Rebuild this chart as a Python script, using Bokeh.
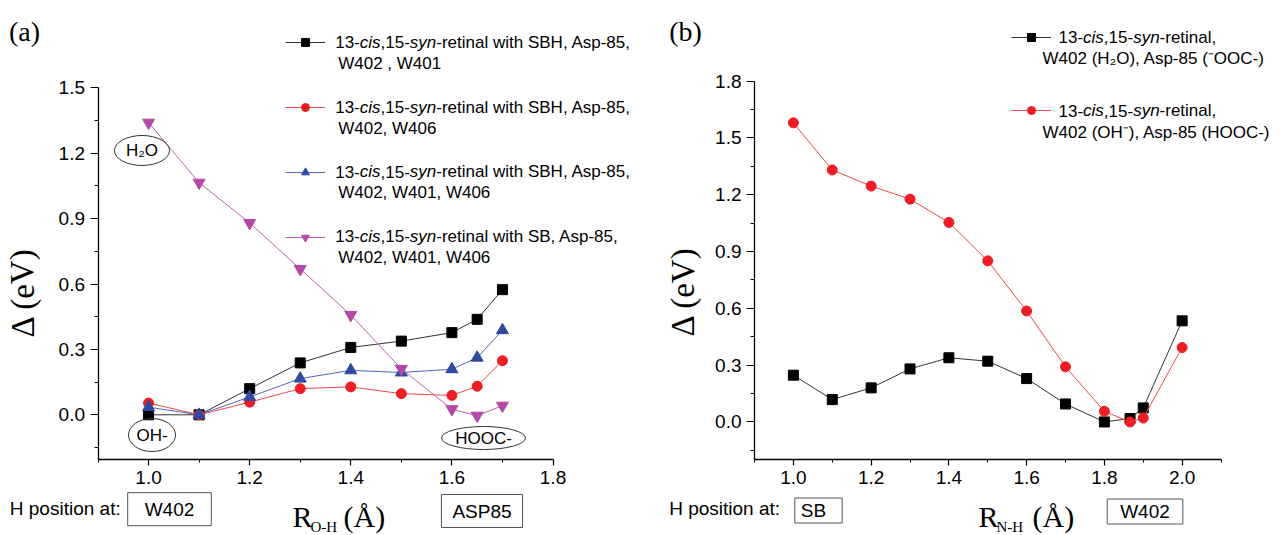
from bokeh.plotting import figure
from bokeh.models import Range1d, FixedTicker, PrintfTickFormatter, Label, Legend, LegendItem
from bokeh.layouts import row
from bokeh.embed import file_html
from bokeh.resources import INLINE

# ---------------- data: panel (a) ----------------
x_a = [1.0, 1.1, 1.2, 1.3, 1.4, 1.5, 1.6, 1.65, 1.7]
a_sbh_w402_w401 = [0.0, 0.0, 0.12, 0.238, 0.309, 0.338, 0.377, 0.438, 0.574]
a_sbh_w402_w406 = [0.054, 0.0, 0.058, 0.12, 0.128, 0.097, 0.089, 0.131, 0.248]
a_sbh_w402_w401_w406 = [0.035, 0.0, 0.082, 0.166, 0.204, 0.194, 0.209, 0.262, 0.388]
a_sb_w402_w401_w406 = [1.34, 1.065, 0.88, 0.669, 0.458, 0.211, 0.026, -0.004, 0.042]

# ---------------- data: panel (b) ----------------
x_b = [1.0, 1.1, 1.2, 1.3, 1.4, 1.5, 1.6, 1.7, 1.8, 1.866, 1.9, 2.0]
b_h2o_ooc = [0.247, 0.118, 0.18, 0.28, 0.339, 0.321, 0.229, 0.095, 0.0, 0.018, 0.074, 0.534]
b_oh_hooc = [1.58, 1.331, 1.246, 1.177, 1.054, 0.851, 0.586, 0.291, 0.056, 0.0, 0.021, 0.393]

# ticks
a_xticks = [1.0, 1.2, 1.4, 1.6, 1.8]
a_xminor = [0.9, 1.1, 1.3, 1.5, 1.7]
a_yticks = [0.0, 0.3, 0.6, 0.9, 1.2, 1.5]
a_yminor = [-0.15, 0.15, 0.45, 0.75, 1.05, 1.35]
b_xticks = [1.0, 1.2, 1.4, 1.6, 1.8, 2.0]
b_xminor = [0.9, 1.1, 1.3, 1.5, 1.7, 1.9, 2.1]
b_yticks = [0.0, 0.3, 0.6, 0.9, 1.2, 1.5, 1.8]
b_yminor = [-0.15, 0.15, 0.45, 0.75, 1.05, 1.35, 1.65]

BLACK = "#000000"
RED = "#ee1c25"
BLUE = "#2f4a9e"
MAG = "#b24aa5"
SANS = "Liberation Sans"
SERIF = "Liberation Serif"
H = 535

W = {'1': 556, '3': 556, '5': 556, '-': 333, ',': 278, 'c': 500, 'i': 222,
     's': 500, 'y': 500, 'n': 556}


def tw(s, size):
    return sum(W[c] for c in s) * size / 1000.0


def make_fig(w, ax_x, ax_y, xlim, ylim, xt, xm, yt, ym):
    """ax_x: pixels of xlim[0], xlim[1]; ax_y: pixels of ylim[1], ylim[0]."""
    kx = (xlim[1] - xlim[0]) / (ax_x[1] - ax_x[0])
    ky = (ylim[1] - ylim[0]) / (ax_y[1] - ax_y[0])
    xr = Range1d(xlim[0] - ax_x[0] * kx, xlim[0] + (w - ax_x[0]) * kx)
    yr = Range1d(ylim[1] - (H - ax_y[0]) * ky, ylim[1] + ax_y[0] * ky)
    p = figure(width=w, height=H, x_range=xr, y_range=yr, title=None,
               output_backend="svg", toolbar_location=None,
               min_border_left=0, min_border_right=0,
               min_border_top=0, min_border_bottom=0)
    p.outline_line_color = None
    p.grid.visible = False
    p.background_fill_color = "white"
    p.border_fill_color = "white"
    xa, ya = p.xaxis[0], p.yaxis[0]
    xa.ticker = FixedTicker(ticks=xt, minor_ticks=xm)
    ya.ticker = FixedTicker(ticks=yt, minor_ticks=ym)
    xa.fixed_location = ylim[0]
    ya.fixed_location = xlim[0]
    xa.bounds = xlim
    ya.bounds = ylim
    for ax in (xa, ya):
        ax.formatter = PrintfTickFormatter(format="%.1f")
        ax.axis_line_color = "black"
        ax.axis_line_width = 1.3
        ax.major_tick_line_color = "black"
        ax.minor_tick_line_color = "black"
        ax.major_tick_line_width = 1.2
        ax.major_tick_in = 0
        ax.minor_tick_in = 0
        ax.major_label_text_font = SANS
        ax.major_label_text_font_size = "19px"
        ax.major_label_text_color = "black"
    ya.major_tick_out = 8
    ya.minor_tick_out = 4
    ya.major_label_standoff = 5
    xa.major_tick_out = 6
    xa.minor_tick_out = 3
    xa.major_label_standoff = 5

    def conv(px, py):
        return (xr.start + px * kx, yr.end - py * ky)
    return p, conv


def add_text(p, conv, px, py, text, size, font=SANS, style="normal",
             align="left", baseline="middle", angle=0.0, **kw):
    X, Y = conv(px, py)
    p.add_layout(Label(x=X, y=Y, text=text, text_font=font, text_font_style=style,
                       text_font_size=f"{size}px", text_align=align,
                       text_baseline=baseline, angle=angle, text_color="black", **kw))


def rich(p, conv, px, py, pieces, size):
    for text, italic in pieces:
        add_text(p, conv, px, py, text, size, style="italic" if italic else "normal")
        if all(c in W for c in text):
            px += tw(text, size)


def head(tail):
    return [("13-", False), ("cis", True), (",15-", False), ("syn", True), (tail, False)]


def legend(items, x, y_top, spacing, n):
    bottom = y_top + n * 20 + (n - 1) * spacing
    return Legend(items=items, location=(x, H - bottom), glyph_width=40, glyph_height=20,
                  label_height=20, label_width=1, spacing=spacing, padding=0, margin=0,
                  border_line_color=None, background_fill_alpha=0,
                  label_text_font_size="1px", label_standoff=0)


# ====================== panel (a) ======================
WA = 658
pa, ca = make_fig(WA, (97.5, 552.5), (87.3, 459.3), (0.9, 1.8), (-0.2064, 1.5),
                  a_xticks, a_xminor, a_yticks, a_yminor)

series_a = [
    (a_sbh_w402_w401, BLACK, "#333333", "square", 10),
    (a_sbh_w402_w406, RED, "#f04848", "circle", 10),
    (a_sbh_w402_w401_w406, BLUE, "#5566bb", "triangle", 12),
    (a_sb_w402_w401_w406, MAG, "#c060b4", "inverted_triangle", 12),
]
items_a = []
for ys, mc, lc, mk, sz in series_a:
    l = pa.line(x_a, ys, line_color=lc, line_width=1)
    s = pa.scatter(x_a, ys, marker=mk, size=sz, fill_color=mc, line_color=mc)
    items_a.append(LegendItem(label=" ", renderers=[l, s]))
pa.add_layout(legend(items_a, 285, 31.7, 45, 4))

rows_a = [(41.7, 62.7, "-retinal with SBH, Asp-85,", "W402 , W401"),
          (106.7, 127.7, "-retinal with SBH, Asp-85,", "W402, W406"),
          (171.0, 192.3, "-retinal with SBH, Asp-85,", "W402, W401, W406"),
          (235.7, 256.7, "-retinal with SB, Asp-85,", "W402, W401, W406")]
for y1, y2, tail, second in rows_a:
    rich(pa, ca, 334.7, y1, head(tail), 17)
    add_text(pa, ca, 337.7, y2, second, 17)

ell = [(141.5, 150.0, 55, 30, "H\u2082O"), (151.5, 434.5, 47, 33, "OH-"),
       (483.0, 437.5, 84, 23, "HOOC-")]
for px, py, ew, eh, t in ell:
    X, Y = ca(px, py)
    pa.ellipse(x=[X], y=[Y], width=ew, height=eh, width_units="screen",
               height_units="screen", fill_color=None, line_color="#333333", line_width=1)
    add_text(pa, ca, px, py, t, 17, align="center")

add_text(pa, ca, 24, 31, "(a)", 28, font=SERIF, align="center")
add_text(pa, ca, 22, 292, "\u0394 (eV)", 33, font=SERIF, align="center", angle=1.5708)
add_text(pa, ca, 9.3, 508.3, "H position at:", 19)
add_text(pa, ca, 169, 508.7, "W402", 19, align="center",
         border_line_color="#555555", padding=dict(left=17, right=17, top=6, bottom=6))
add_text(pa, ca, 481.5, 510.5, "ASP85", 19, align="center",
         border_line_color="#555555", padding=dict(left=11, right=11, top=6, bottom=6))
add_text(pa, ca, 292, 516, "R", 30, font=SERIF)
add_text(pa, ca, 310, 526.5, "O-H", 15, font=SERIF)
add_text(pa, ca, 343, 516, "(\u00c5)", 30, font=SERIF)

# ====================== panel (b) ======================
WB = 625
pb, cb = make_fig(WB, (96, 562.5), (80.7, 459.3), (0.9, 2.1), (-0.2, 1.8),
                  b_xticks, b_xminor, b_yticks, b_yminor)

series_b = [
    (b_h2o_ooc, BLACK, "#333333", "square", 10),
    (b_oh_hooc, RED, "#f04848", "circle", 10),
]
items_b = []
for ys, mc, lc, mk, sz in series_b:
    l = pb.line(x_b, ys, line_color=lc, line_width=1)
    s = pb.scatter(x_b, ys, marker=mk, size=sz, fill_color=mc, line_color=mc)
    items_b.append(LegendItem(label=" ", renderers=[l, s]))
pb.add_layout(legend(items_b, 353, 26.7, 53, 2))

rich(pb, cb, 400, 36.7, head("-retinal,"), 17)
add_text(pb, cb, 384, 58.3, "W402 (H\u2082O), Asp-85 (\u207bOOC-)", 17)
rich(pb, cb, 400, 110.0, head("-retinal,"), 17)
add_text(pb, cb, 384, 131.7, "W402 (OH\u207b), Asp-85 (HOOC-)", 17)

add_text(pb, cb, 27, 31, "(b)", 28, font=SERIF, align="center")
add_text(pb, cb, 24.5, 291, "\u0394 (eV)", 33, font=SERIF, align="center", angle=1.5708)
add_text(pb, cb, 10.7, 508.3, "H position at:", 19)
add_text(pb, cb, 160, 510, "SB", 19, align="center",
         border_line_color="#555555", padding=dict(left=6, right=16, top=2, bottom=2))
add_text(pb, cb, 486.5, 511, "W402", 19, align="center",
         border_line_color="#555555", padding=dict(left=13, right=13, top=2, bottom=2))
add_text(pb, cb, 320, 516, "R", 30, font=SERIF)
add_text(pb, cb, 338, 526.5, "N-H", 15, font=SERIF)
add_text(pb, cb, 374, 516, "(\u00c5)", 30, font=SERIF)

layout = row(pa, pb)
open("out.html", "w").write(file_html(layout, INLINE))
